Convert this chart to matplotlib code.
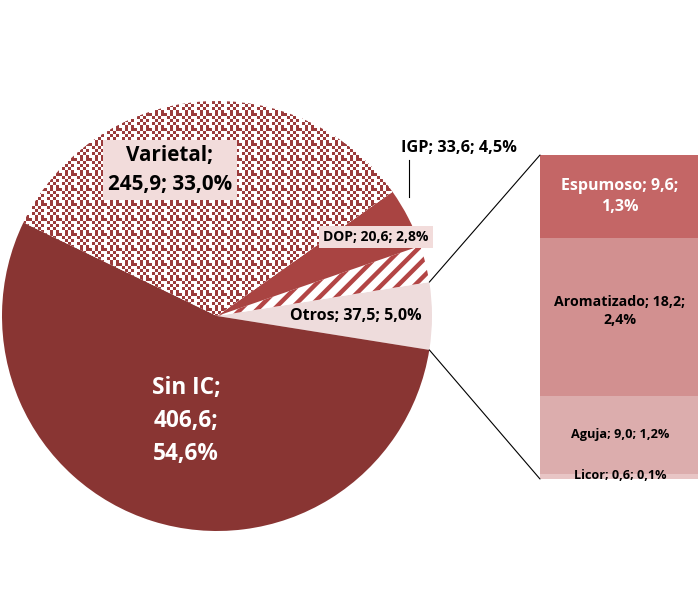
import numpy as np
import matplotlib
matplotlib.use("Agg")
import matplotlib.pyplot as plt
from matplotlib.patches import ConnectionPatch

plt.rcParams['font.family'] = ['Open Sans', 'DejaVu Sans']
plt.rcParams['hatch.linewidth'] = 3.2

# Pie data (order counter-clockwise starting from the split slice)
pie_labels = ["Otros", "DOP", "IGP", "Varietal", "Sin IC"]
pie_values = [37.5, 20.6, 33.6, 245.9, 406.6]
pie_pcts = ["5,0%", "2,8%", "4,5%", "33,0%", "54,6%"]
pie_vals_txt = ["37,5", "20,6", "33,6", "245,9", "406,6"]

# Breakdown of "Otros" (top to bottom)
bar_labels = ["Espumoso", "Aromatizado", "Aguja", "Licor"]
bar_values = [9.6, 18.2, 9.0, 0.6]
bar_pcts = ["1,3%", "2,4%", "1,2%", "0,1%"]
bar_vals_txt = ["9,6", "18,2", "9,0", "0,6"]

W, H = 698, 606
fig = plt.figure(figsize=(W / 100, H / 100), dpi=100)

# pie axes: center (217,316) px, radius 215 px
cx, cy, r = 217, 316, 215
axp = fig.add_axes([(cx - r) / W, (H - (cy + r)) / H, 2 * r / W, 2 * r / H])
total = sum(pie_values)
start = -0.5 * pie_values[0] / total * 360
pie_colors = ["#EEDCDC", "white", "#A94442", "white", "#893533"]
wedges, _ = axp.pie(pie_values, colors=pie_colors, startangle=start,
                    counterclock=True, radius=1,
                    wedgeprops=dict(linewidth=0))
axp.set_xlim(-1, 1)
axp.set_ylim(-1, 1)
axp.set_aspect('equal')
axp.axis('off')

# DOP stripes
wedges[1].set_hatch('//')
wedges[1].set_edgecolor('#B34545')
wedges[1].set_linewidth(0)

# Varietal checker texture
n = 2 * r
ii, jj = np.mgrid[0:n, 0:n]
a = (ii // 3) % 5
b = (jj // 3) % 5
pat = ((a + b) % 2 == 0) & (a != 4) & (b != 4)
pat |= (a == 4) & (b == 4)
img = np.ones((n, n, 3))
red = np.array([0x9B, 0x3B, 0x3B]) / 255
img[pat] = red
img[((a == 4) & ((b == 1) | (b == 3)))] = red
im = axp.imshow(img, extent=(-1, 1, -1, 1), interpolation='nearest', zorder=1.5)
im.set_clip_path(wedges[3])


def px(x, y):
    return (x - cx) / r, (cy - y) / r


def box(pad):
    return dict(boxstyle='square,pad=%s' % pad, facecolor='#F2DCDB', edgecolor='none')


axp.text(*px(170, 170), "Varietal;\n245,9; 33,0%", ha='center', va='center',
         fontsize=14.9, fontweight='bold', color='black', bbox=box(0.22),
         linespacing=1.5, zorder=5)
axp.text(*px(186, 421), "Sin IC;\n406,6;\n54,6%", ha='center', va='center',
         fontsize=16.3, fontweight='bold', color='white', linespacing=1.5, zorder=5)
axp.text(*px(459, 148), "IGP; 33,6; 4,5%", ha='center', va='center',
         fontsize=11.7, fontweight='bold', color='black', clip_on=False, zorder=5)
x0, y0 = px(409, 160)
x1, y1 = px(409, 197)
axp.plot([x0, x1], [y0, y1], color='black', lw=0.8, clip_on=False, zorder=5)
axp.text(*px(376, 237), "DOP; 20,6; 2,8%", ha='center', va='center',
         fontsize=10, fontweight='bold', color='black', bbox=box(0.3), zorder=5)
axp.text(*px(356, 316), "Otros; 37,5; 5,0%", ha='center', va='center',
         fontsize=11.5, fontweight='bold', color='black',
         bbox=dict(boxstyle='square,pad=0.2', facecolor='#EEDCDC', edgecolor='none'),
         zorder=5)

# bar axes
bx0, bx1, by0, by1 = 540, 700, 155, 479
axb = fig.add_axes([bx0 / W, (H - by1) / H, (bx1 - bx0) / W, (by1 - by0) / H])
bar_colors = ["#C46666", "#D29090", "#DCADAD", "#E8C5C5"]
btotal = sum(bar_values)
bottom = btotal
for lab, v, c, vt, pc in zip(bar_labels, bar_values, bar_colors, bar_vals_txt, bar_pcts):
    bottom -= v
    axb.bar(0, v, bottom=bottom, width=1, color=c, linewidth=0)
axb.set_xlim(-0.5, 0.5)
axb.set_ylim(0, btotal)
axb.axis('off')

axb.text(0, btotal - 9.6 / 2, "Espumoso; 9,6;\n1,3%", ha='center', va='center',
         fontsize=11.5, fontweight='bold', color='white', linespacing=1.4)
axb.text(0, 0.6 + 9.0 + 18.2 / 2 + 0.7, "Aromatizado; 18,2;\n2,4%", ha='center', va='center',
         fontsize=10.2, fontweight='bold', color='black', linespacing=1.4)
axb.text(0, 0.6 + 9.0 / 2, "Aguja; 9,0; 1,2%", ha='center', va='center',
         fontsize=9.2, fontweight='bold', color='black')
axb.text(0, 0.45, "Licor; 0,6; 0,1%", ha='center', va='center',
         fontsize=9.1, fontweight='bold', color='black', clip_on=False)

# connector lines
ang = np.deg2rad(-start)
for sgn, ybar in [(1, 1), (-1, 0)]:
    con = ConnectionPatch(xyA=(np.cos(ang), sgn * np.sin(ang)), coordsA=axp.transData,
                          xyB=(0, ybar), coordsB=axb.transAxes,
                          color='black', lw=0.8)
    fig.add_artist(con)

fig.savefig("out.png", dpi=100)
